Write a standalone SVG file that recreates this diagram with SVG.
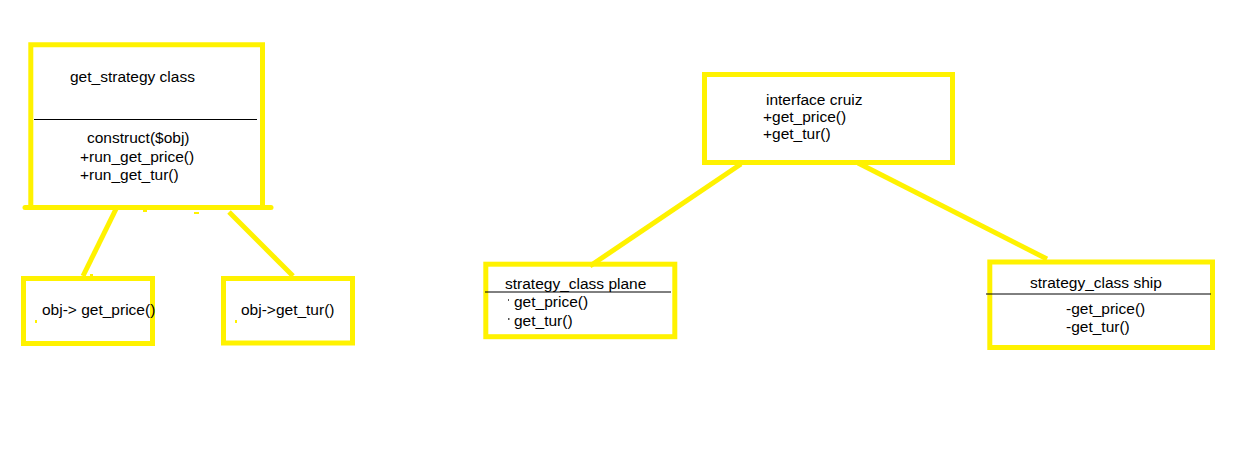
<svg xmlns="http://www.w3.org/2000/svg" width="1241" height="457" viewBox="0 0 1241 457">
<style>
.box{fill:none;stroke:#FFF200;stroke-width:5}
.con{stroke:#FFF200;stroke-width:5;fill:none}
.div{stroke:#000;stroke-width:1}
text{font-family:"Liberation Sans",Arial,sans-serif;font-size:15.5px;fill:#000}
.speck{fill:#FFF200}
.dot{fill:#555}
</style>
<rect width="1241" height="457" fill="#fff"/>
<g id="connectors">
<line class="con" x1="116" y1="209" x2="83" y2="276"/>
<line class="con" x1="229" y1="212" x2="293" y2="276"/>
<line class="con" x1="741" y1="164" x2="590" y2="266"/>
<line class="con" x1="858" y1="163" x2="1047" y2="259"/>
</g>
<g id="get_strategy">
<path class="box" d="M30.8 207.5 V44.8 H262.5 V207.5"/>
<line x1="25" y1="207.5" x2="271" y2="207.5" stroke="#FFF200" stroke-width="5" stroke-linecap="round"/>
<line class="div" x1="34" y1="119.5" x2="257" y2="119.5"/>
<text x="70" y="82">get_strategy class</text>
<text x="87" y="143">construct($obj)</text>
<text x="80" y="162">+run_get_price()</text>
<text x="80" y="180">+run_get_tur()</text>
<rect class="speck" x="143" y="210" width="4" height="2"/>
<rect class="speck" x="194" y="212" width="5" height="2"/>
</g>
<g id="obj_get_price">
<rect class="box" x="23.5" y="278.5" width="129" height="65"/>
<text x="42" y="315">obj-&gt; get_price()</text>
<rect class="speck" x="35" y="320" width="2" height="3"/>
<rect class="speck" x="90" y="274" width="3" height="3"/>
</g>
<g id="obj_get_tur">
<rect class="box" x="223.5" y="278.5" width="129" height="64.5"/>
<text x="241" y="315">obj-&gt;get_tur()</text>
<rect class="speck" x="235" y="320" width="2" height="3"/>
</g>
<g id="interface_cruiz">
<rect class="box" x="704.5" y="74.5" width="248" height="88"/>
<text x="766" y="105">interface cruiz</text>
<text x="763" y="122">+get_price()</text>
<text x="763" y="139">+get_tur()</text>
</g>
<g id="strategy_plane">
<rect class="box" x="485.8" y="264.2" width="189" height="72.5"/>
<line class="div" x1="485" y1="292" x2="671" y2="292"/>
<text x="505" y="289">strategy_class plane</text>
<text x="514" y="307">get_price()</text>
<text x="514" y="326">get_tur()</text>
<rect class="dot" x="508" y="299" width="1" height="2"/>
<rect class="dot" x="508" y="318" width="1.5" height="2"/>
</g>
<g id="strategy_ship">
<rect class="box" x="989.8" y="262" width="222.7" height="85.5"/>
<line class="div" x1="986" y1="294" x2="1211" y2="294"/>
<text x="1030" y="288">strategy_class ship</text>
<text x="1066" y="314">-get_price()</text>
<text x="1066" y="332">-get_tur()</text>
</g>
</svg>
